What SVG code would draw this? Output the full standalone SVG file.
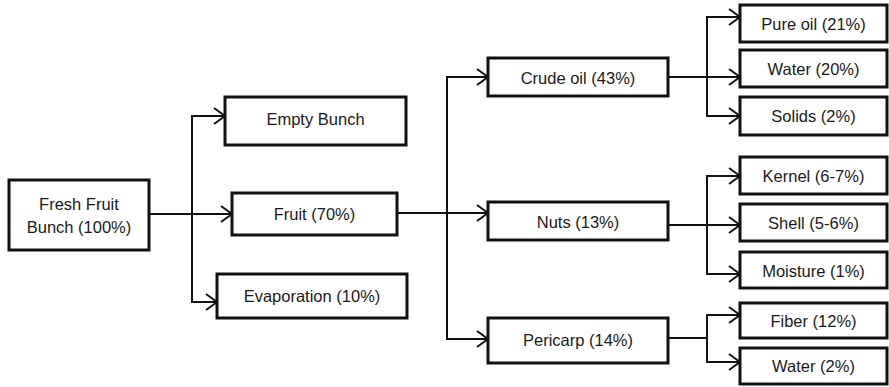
<svg xmlns="http://www.w3.org/2000/svg" width="889" height="387" viewBox="0 0 889 387">
<style>
.box{fill:#fff;stroke:#111;stroke-width:3}
.t{font-family:"Liberation Sans",Arial,sans-serif;font-size:16.5px;fill:#1a1a1a;text-anchor:middle;dominant-baseline:central}
.c{fill:none;stroke:#111;stroke-width:2}
</style>
<defs>
<marker id="ah" markerUnits="userSpaceOnUse" markerWidth="14" markerHeight="18" refX="11" refY="8" orient="auto" overflow="visible">
<path d="M0,0 L11,8 L0,16" fill="none" stroke="#111" stroke-width="2"/>
</marker>
</defs>
<rect width="889" height="387" fill="#fff"/>
<g id="connectors">
<path class="c" d="M149,214 H232" marker-end="url(#ah)"/>
<path class="c" d="M192,214 V116 H225" marker-end="url(#ah)"/>
<path class="c" d="M192,214 V302 H217" marker-end="url(#ah)"/>
<path class="c" d="M397,213 H488" marker-end="url(#ah)"/>
<path class="c" d="M447,213 V77 H488" marker-end="url(#ah)"/>
<path class="c" d="M447,213 V339 H488" marker-end="url(#ah)"/>
<path class="c" d="M668,77 H707 V17 H740" marker-end="url(#ah)"/>
<path class="c" d="M707,77 H740" marker-end="url(#ah)"/>
<path class="c" d="M707,77 V116 H740" marker-end="url(#ah)"/>
<path class="c" d="M668,225 H740" marker-end="url(#ah)"/>
<path class="c" d="M707,225 V176 H740" marker-end="url(#ah)"/>
<path class="c" d="M707,225 V274 H740" marker-end="url(#ah)"/>
<path class="c" d="M668,338 H707 V315 H740" marker-end="url(#ah)"/>
<path class="c" d="M707,338 V362 H740" marker-end="url(#ah)"/>
</g>
<g id="ffb"><rect class="box" x="9" y="180" width="140" height="70"/><text class="t" x="79" y="204">Fresh Fruit</text><text class="t" x="79" y="227">Bunch (100%)</text></g>
<g id="empty"><rect class="box" x="225" y="97" width="181" height="48"/><text class="t" x="315.5" y="119">Empty Bunch</text></g>
<g id="fruit"><rect class="box" x="232" y="193" width="165" height="42"/><text class="t" x="314.5" y="214">Fruit (70%)</text></g>
<g id="evap"><rect class="box" x="217" y="274" width="190" height="44"/><text class="t" x="312" y="296">Evaporation (10%)</text></g>
<g id="crude"><rect class="box" x="488" y="58" width="180" height="38"/><text class="t" x="578" y="78">Crude oil (43%)</text></g>
<g id="nuts"><rect class="box" x="488" y="202" width="180" height="38"/><text class="t" x="578" y="222">Nuts (13%)</text></g>
<g id="pericarp"><rect class="box" x="488" y="318" width="180" height="45"/><text class="t" x="578" y="340">Pericarp (14%)</text></g>
<g id="pureoil"><rect class="box" x="740" y="5" width="147" height="37"/><text class="t" x="813.5" y="24">Pure oil (21%)</text></g>
<g id="water20"><rect class="box" x="740" y="50" width="147" height="37"/><text class="t" x="813.5" y="69">Water (20%)</text></g>
<g id="solids"><rect class="box" x="740" y="97" width="147" height="38"/><text class="t" x="813.5" y="116">Solids (2%)</text></g>
<g id="kernel"><rect class="box" x="740" y="157" width="147" height="37"/><text class="t" x="813.5" y="176">Kernel (6-7%)</text></g>
<g id="shell"><rect class="box" x="740" y="204" width="147" height="37"/><text class="t" x="813.5" y="223">Shell (5-6%)</text></g>
<g id="moisture"><rect class="box" x="740" y="252" width="147" height="36"/><text class="t" x="813.5" y="271">Moisture (1%)</text></g>
<g id="fiber"><rect class="box" x="740" y="303" width="147" height="35"/><text class="t" x="813.5" y="321">Fiber (12%)</text></g>
<g id="water2"><rect class="box" x="740" y="348" width="147" height="36"/><text class="t" x="813.5" y="366">Water (2%)</text></g>
</svg>
